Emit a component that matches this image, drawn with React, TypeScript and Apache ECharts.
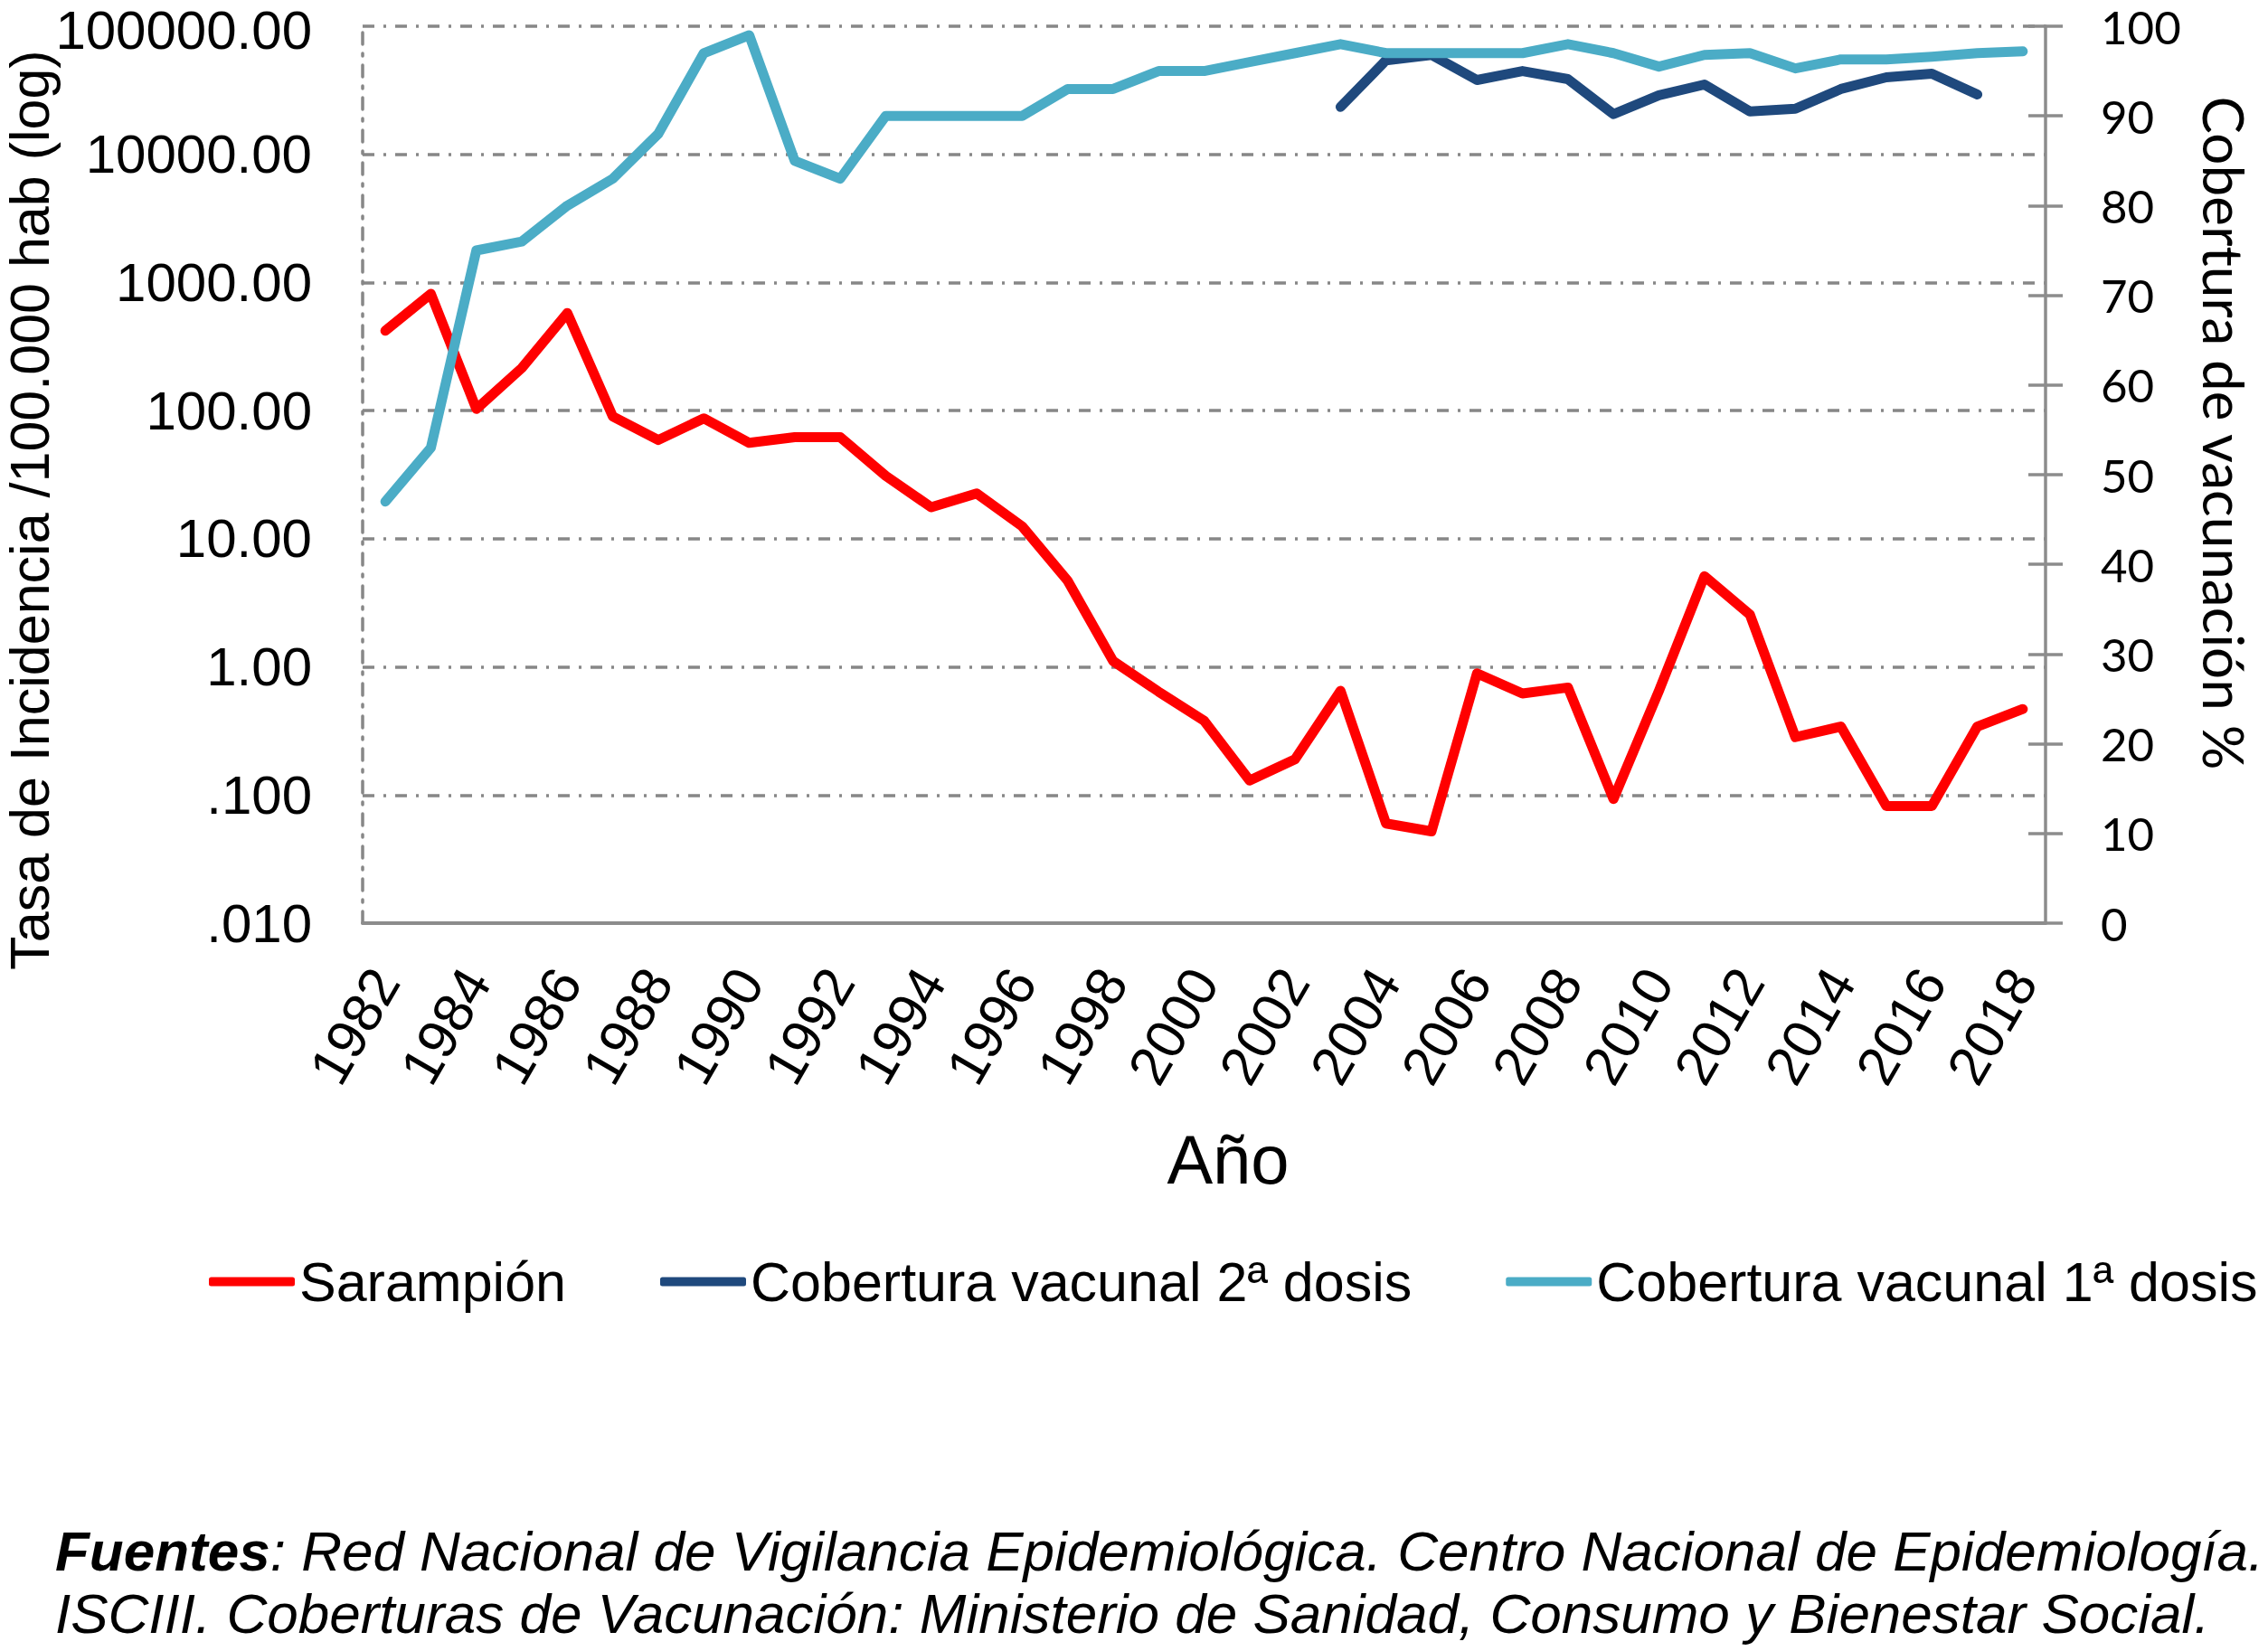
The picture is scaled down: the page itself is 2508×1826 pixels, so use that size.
import React, { useEffect, useRef } from 'react';
import * as echarts from 'echarts';

// años (eje X)
const years = [
  '1982', '1983', '1984', '1985', '1986', '1987', '1988', '1989', '1990', '1991',
  '1992', '1993', '1994', '1995', '1996', '1997', '1998', '1999', '2000', '2001',
  '2002', '2003', '2004', '2005', '2006', '2007', '2008', '2009', '2010', '2011',
  '2012', '2013', '2014', '2015', '2016', '2017', '2018',
];

// tasa de incidencia /100.000 hab (eje log izquierdo)
const sarampion = [
  420, 816, 103, 215, 577, 90, 59, 87, 56, 62,
  62, 31, 17.6, 22.6, 12.5, 4.7, 1.11, 0.64, 0.38, 0.13,
  0.19, 0.65, 0.06, 0.052, 0.89, 0.62, 0.69, 0.093, 0.65, 5.1,
  2.56, 0.283, 0.342, 0.082, 0.082, 0.342, 0.469,
];

// cobertura % (eje derecho)
const cobertura2 = [
  null, null, null, null, null, null, null, null, null, null,
  null, null, null, null, null, null, null, null, null, null,
  null, 91, 96.2, 96.8, 94.0, 95.0, 94.1, 90.2, 92.3, 93.5,
  90.5, 90.8, 93.0, 94.3, 94.7, 92.4, null,
];

const cobertura1 = [
  47, 53, 75, 76, 80, 83, 88, 97, 99, 85,
  83, 90, 90, 90, 90, 93, 93, 95, 95, 96,
  97, 98, 97, 97, 97, 97, 98, 97, 95.5, 96.8,
  97, 95.3, 96.3, 96.3, 96.6, 97, 97.2,
];

const seriesNames = ['Sarampión', 'Cobertura vacunal 2ª dosis', 'Cobertura vacunal 1ª dosis'];

// etiquetas del eje log, de 0.01 a 100000
const logTickLabels = ['.010', '.100', '1.00', '10.00', '100.00', '1000.00', '10000.00', '100000.00'];

const ARIAL = '"Liberation Sans", Arial, sans-serif';
const CALIBRI = 'Lato, "Open Sans", sans-serif';
const GRID_GREY = '#878787';
const AXIS_GREY = '#8C8C8C';
const DASH_DOT = [13, 10, 3, 10];

const App = () => {
  const chartRef = useRef<HTMLDivElement>(null);

  useEffect(() => {
    if (!chartRef.current) return;
    const chart = echarts.init(chartRef.current, null, { renderer: 'svg' });

    const lineStyle = (color: string) => ({ color, width: 11, cap: 'round', join: 'round' });

    const option = {
      animation: false,
      grid: { left: 401, top: 29, width: 1861, height: 992, containLabel: false, outerBoundsMode: 'none' },
      legend: {
        data: seriesNames,
        left: 226,
        top: 1382,
        icon: 'roundRect',
        itemWidth: 95,
        itemHeight: 10,
        itemGap: 104,
        textStyle: { fontSize: 61, fontFamily: ARIAL, color: '#000' },
      },
      xAxis: {
        type: 'category',
        data: years,
        boundaryGap: true,
        axisLine: { show: true, onZero: false, lineStyle: { color: AXIS_GREY, width: 4 } },
        axisTick: { show: false },
        axisLabel: { interval: 1, rotate: 60, margin: 55, fontSize: 61, fontFamily: ARIAL, color: '#000' },
        splitLine: { show: false },
      },
      yAxis: [
        {
          type: 'log',
          logBase: 10,
          min: 0.01,
          max: 100000,
          position: 'left',
          axisLine: { show: true, lineStyle: { color: GRID_GREY, width: 3.5, type: DASH_DOT } },
          axisTick: { show: false },
          axisLabel: {
            margin: 56,
            fontSize: 60,
            lineHeight: 44,
            fontFamily: ARIAL,
            color: '#000',
            formatter: (v: number) => {
              const i = Math.round(Math.log10(v)) + 2;
              const label = logTickLabels[i] ?? '';
              // la etiqueta superior baja un poco para no salirse del borde
              return i === logTickLabels.length - 1 ? `{top|${label}}` : label;
            },
            rich: {
              top: { fontSize: 60, fontFamily: ARIAL, color: '#000', lineHeight: 44, padding: [8, 0, 0, 0] },
            },
          },
          splitLine: { show: true, lineStyle: { color: GRID_GREY, width: 3.5, type: DASH_DOT } },
        },
        {
          type: 'value',
          min: 0,
          max: 100,
          interval: 10,
          position: 'right',
          axisLine: { show: true, lineStyle: { color: AXIS_GREY, width: 3.5 } },
          axisTick: { show: true, length: 19, lineStyle: { color: AXIS_GREY, width: 3.5 } },
          axisLabel: { margin: 61, fontSize: 51, lineHeight: 40, fontFamily: CALIBRI, color: '#000' },
          splitLine: { show: false },
        },
        {
          // solo para las marcas hacia dentro del eje derecho
          type: 'value',
          min: 0,
          max: 100,
          interval: 10,
          position: 'right',
          axisLine: { show: false },
          axisTick: { show: true, inside: true, length: 19, lineStyle: { color: AXIS_GREY, width: 3.5 } },
          axisLabel: { show: false },
          splitLine: { show: false },
        },
      ],
      series: [
        {
          name: seriesNames[0],
          type: 'line',
          yAxisIndex: 0,
          data: sarampion,
          symbol: 'none',
          lineStyle: lineStyle('#FF0000'),
          itemStyle: { color: '#FF0000' },
        },
        {
          name: seriesNames[1],
          type: 'line',
          yAxisIndex: 1,
          data: cobertura2,
          symbol: 'none',
          connectNulls: false,
          lineStyle: lineStyle('#1F497D'),
          itemStyle: { color: '#1F497D' },
        },
        {
          name: seriesNames[2],
          type: 'line',
          yAxisIndex: 1,
          data: cobertura1,
          symbol: 'none',
          lineStyle: lineStyle('#4BACC6'),
          itemStyle: { color: '#4BACC6' },
        },
      ],
      graphic: [
        {
          type: 'text',
          x: 33,
          y: 564,
          rotation: Math.PI / 2,
          style: {
            text: 'Tasa de Incidencia /100.000 hab (log)',
            fontSize: 61,
            lineHeight: 54,
            fontFamily: ARIAL,
            fill: '#000',
            align: 'center',
            verticalAlign: 'middle',
          },
        },
        {
          type: 'text',
          x: 2460,
          y: 479,
          rotation: -Math.PI / 2,
          style: {
            text: 'Cobertura de vacunación %',
            fontSize: 62,
            fontFamily: CALIBRI,
            fill: '#000',
            align: 'center',
            verticalAlign: 'middle',
          },
        },
        {
          type: 'text',
          x: 1358,
          y: 1282,
          style: {
            text: 'Año',
            fontSize: 76,
            fontFamily: ARIAL,
            fill: '#000',
            align: 'center',
            verticalAlign: 'middle',
          },
        },
        {
          type: 'text',
          x: 61,
          y: 1715,
          style: {
            text: '{b|Fuentes}: Red Nacional de Vigilancia Epidemiológica. Centro Nacional de Epidemiología.',
            fontSize: 62,
            fontStyle: 'italic',
            fontFamily: ARIAL,
            fill: '#000',
            align: 'left',
            verticalAlign: 'middle',
            rich: {
              b: { fontSize: 62, fontStyle: 'italic', fontWeight: 'bold', fontFamily: ARIAL, fill: '#000' },
            },
          },
        },
        {
          type: 'text',
          x: 61,
          y: 1784,
          style: {
            text: 'ISCIII. Coberturas de Vacunación: Ministerio de Sanidad, Consumo y Bienestar Social.',
            fontSize: 62,
            fontStyle: 'italic',
            fontFamily: ARIAL,
            fill: '#000',
            align: 'left',
            verticalAlign: 'middle',
          },
        },
      ],
    };

    chart.setOption(option as any);

    const handleResize = () => chart.resize();
    window.addEventListener('resize', handleResize);

    return () => {
      window.removeEventListener('resize', handleResize);
      chart.dispose();
    };
  }, []);

  return (
    <div
      ref={chartRef}
      style={{ position: 'absolute', left: 0, top: 0, width: '2508px', height: '1826px', background: '#fff' }}
    />
  );
};

export default App;
